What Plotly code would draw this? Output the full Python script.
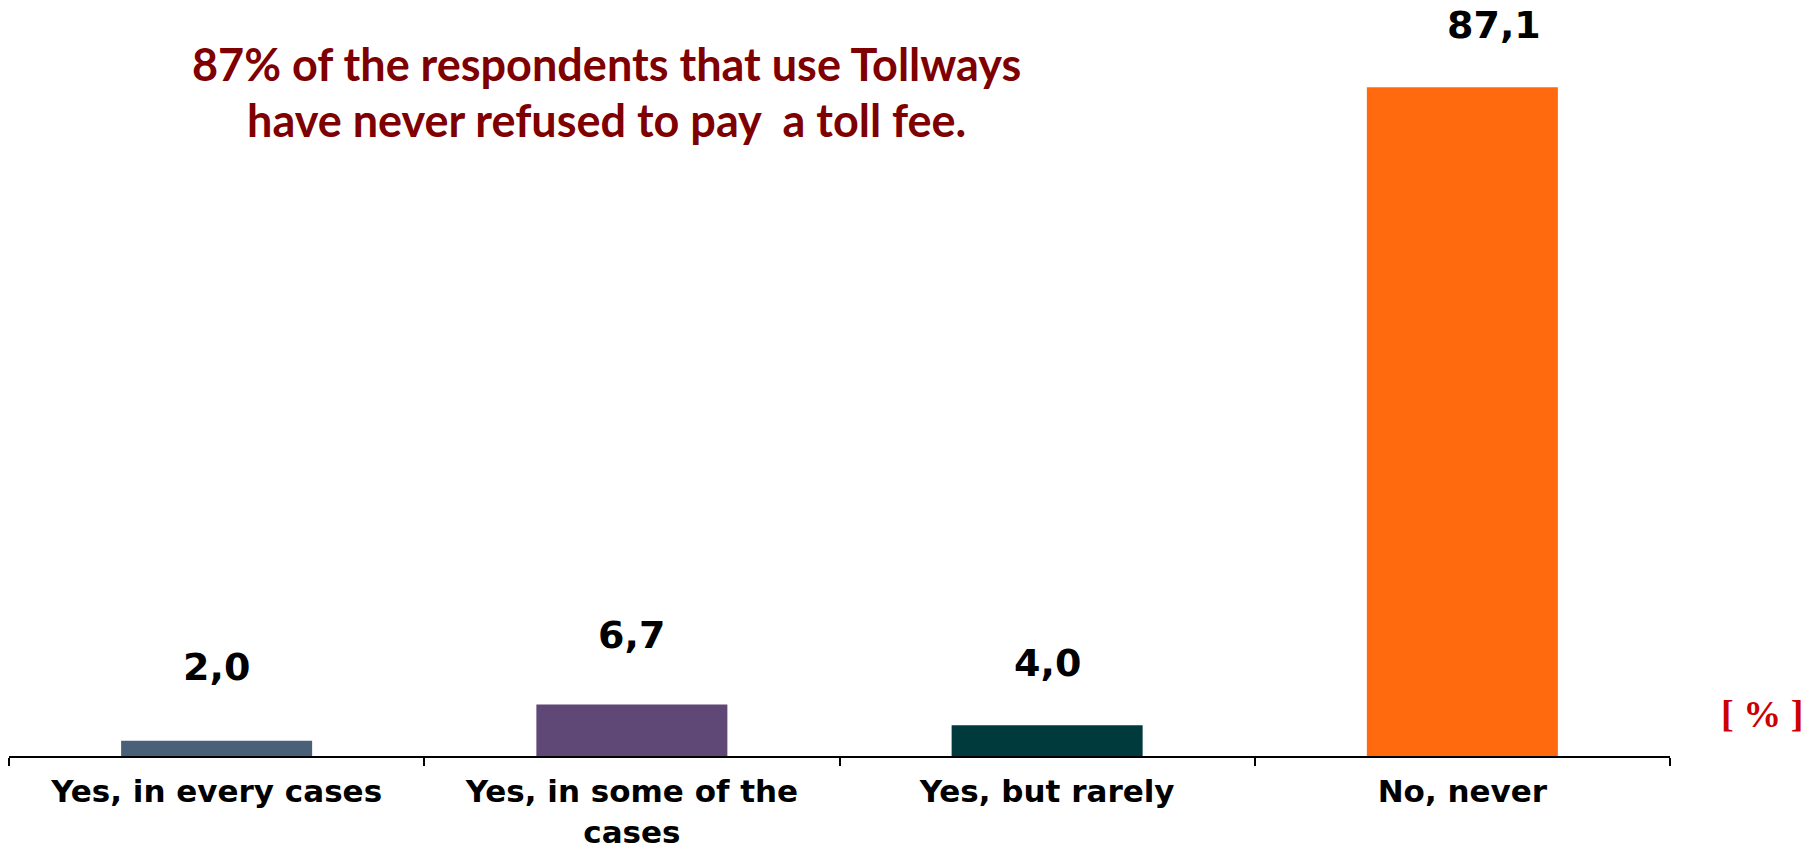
import plotly.graph_objects as go

categories = ["Yes, in every cases", "Yes, in some of the<br>cases", "Yes, but rarely", "No, never"]
values = [2.0, 6.7, 4.0, 87.1]
value_labels = ["2,0", "6,7", "4,0", "87,1"]
bar_colors = ["#4A6078", "#5F4876", "#003A3C", "#FF6A0E"]
title_lines = ["87% of the respondents that use Tollways", "have never refused to pay  a toll fee."]
unit_label = "[ % ]"

label_xshift = [0, 0, 0, 32]
label_yshift = [74, 70, 62, 62]

fig = go.Figure()
fig.add_trace(go.Bar(
    x=categories, y=values,
    marker=dict(color=bar_colors, line=dict(width=0)),
    width=0.46,
    hoverinfo="skip",
))

for c, v, t, dx, dy in zip(categories, values, value_labels, label_xshift, label_yshift):
    fig.add_annotation(x=c, y=v, xref="x", yref="y", text=t, showarrow=False,
                       yshift=dy, xshift=dx, yanchor="middle",
                       font=dict(family="DejaVu Sans", size=38, color="black", weight="bold"))

for i, line in enumerate(title_lines):
    fig.add_annotation(xref="paper", yref="paper", x=(606 - 9) / (1670 - 9),
                       y=1 + (65 - (64 + 56 * i)) / 691.0,
                       text=line, showarrow=False, xanchor="center", yanchor="middle",
                       font=dict(family="Lato", size=45, color="#7F0000", weight="bold"))

fig.add_annotation(xref="paper", yref="paper", x=(1805 - 9) / (1670 - 9),
                   y=(756 - 714) / 691.0, text=unit_label, showarrow=False,
                   xanchor="right", yanchor="middle",
                   font=dict(family="Liberation Serif", size=38, color="#CC0000", weight="bold"))

fig.update_layout(
    width=1806, height=851,
    margin=dict(l=9, r=136, t=65, b=95),
    paper_bgcolor="white", plot_bgcolor="white",
    showlegend=False,
    xaxis=dict(
        automargin=False,
        showline=True, linecolor="black", linewidth=2,
        ticks="outside", tickson="boundaries", ticklen=8, tickwidth=1.5, tickcolor="black",
        tickfont=dict(family="DejaVu Sans", size=31, color="black", weight="bold"),
        ticklabelstandoff=7,
        showgrid=False, zeroline=False, range=[-0.5, 3.5],
    ),
    yaxis=dict(visible=False, automargin=False, range=[0, 90], showgrid=False, zeroline=False),
)

fig.write_html("out.html")
